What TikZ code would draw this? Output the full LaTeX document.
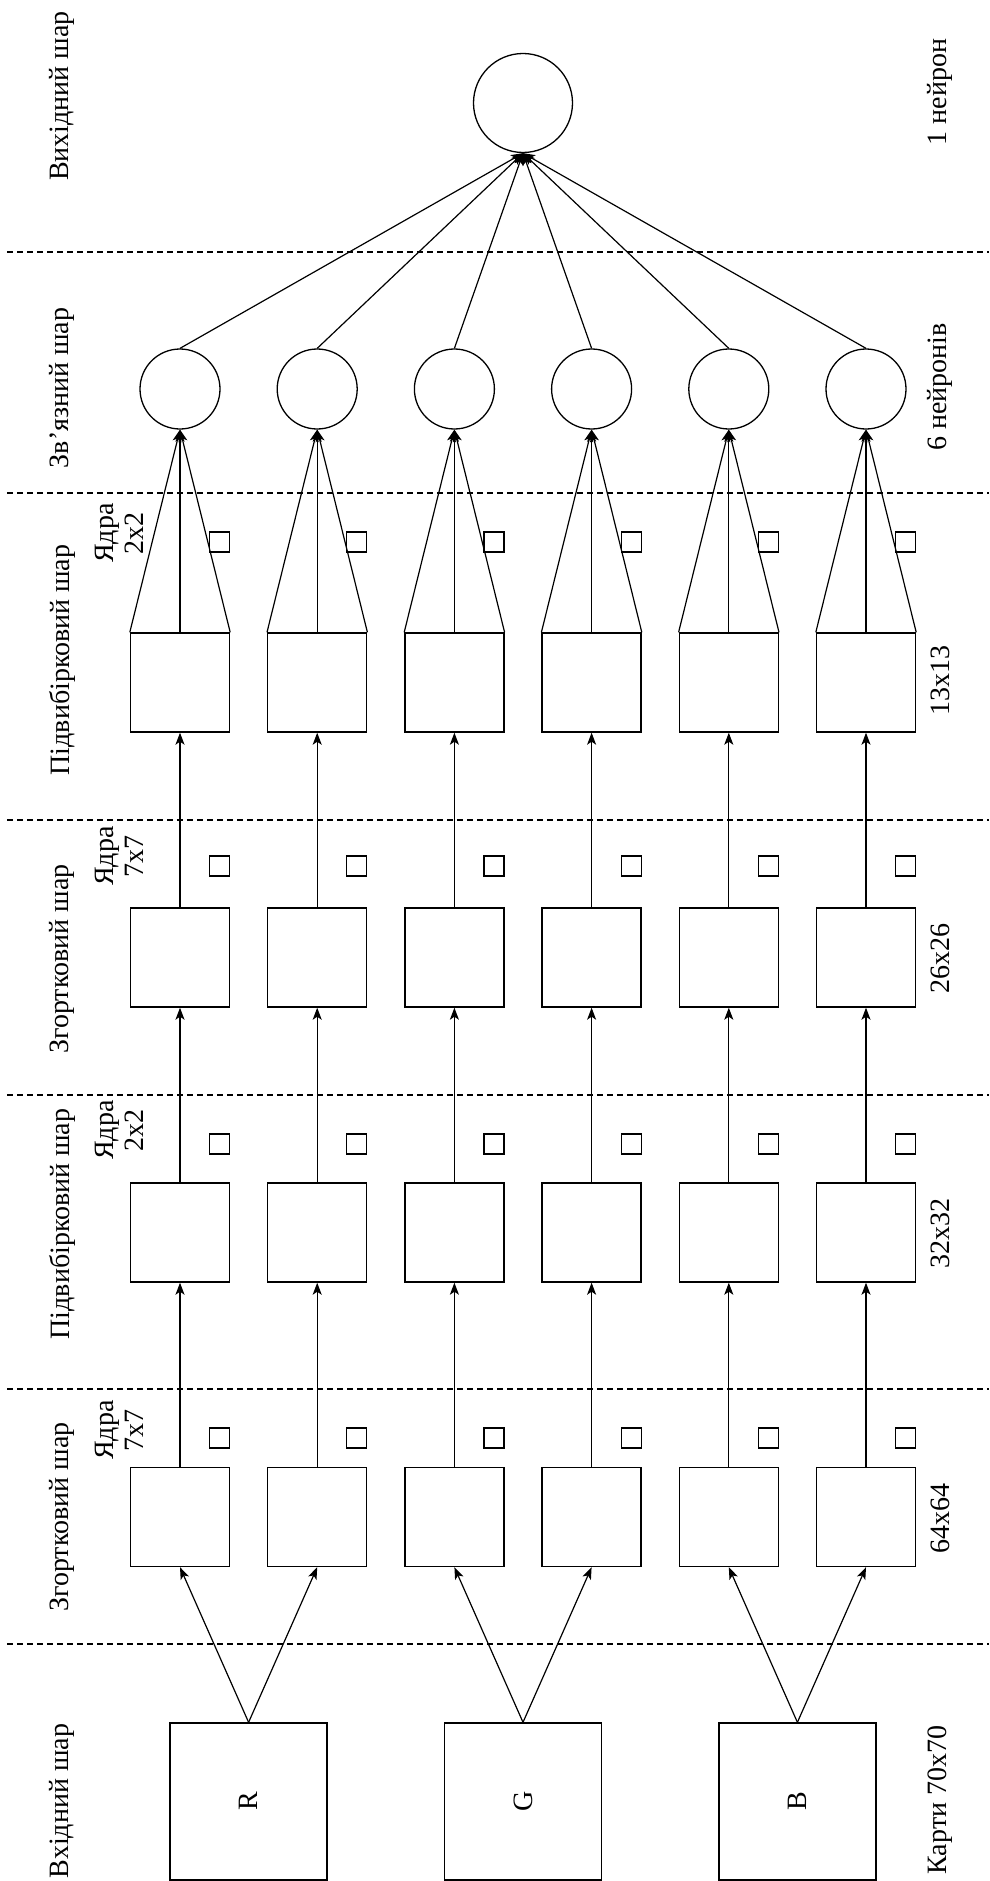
\documentclass[tikz,border=0pt]{standalone}
\usepackage{fontspec}
\setmainfont{Liberation Serif}
\usetikzlibrary{arrows.meta}
\begin{document}
\begin{tikzpicture}[x=1pt,y=-1pt,
  lbl/.style={rotate=90, font=\fontsize{28}{30}\selectfont, inner sep=0pt},
  klbl/.style={rotate=90, font=\fontsize{28}{30}\selectfont, inner sep=0pt, align=center},
  fmap/.style={draw, line width=1.4pt, minimum width=99pt, minimum height=99pt, inner sep=0pt},
  inbox/.style={draw, line width=1.4pt, minimum width=157pt, minimum height=157pt, inner sep=0pt, font=\fontsize{28}{30}\selectfont},
  kern/.style={draw, line width=1.2pt, minimum size=20pt, inner sep=0pt},
  neuron/.style={draw, circle, line width=1.3pt, minimum size=80pt, inner sep=0pt},
  outneuron/.style={draw, circle, line width=1.3pt, minimum size=99pt, inner sep=0pt},
  conn/.style={line width=1.2pt, -{Stealth[length=12pt,width=9pt,inset=3pt]}},
  sep/.style={line width=1.3pt, dash pattern=on 6pt off 4pt}
]
\useasboundingbox (0,0) rectangle (989,1881);

% dashed separators
\foreach \k/\yy in {1/252,2/493,3/820,4/1095,5/1389,6/1644}{
  \coordinate (sl\k) at (7,\yy);
  \coordinate (sr\k) at (989,\yy);
  \draw[sep] (sl\k) -- (sr\k);
}

% left labels
\node[lbl] (L1) at (62,96) {Вихідний шар};
\node[lbl] (L2) at (62,388) {Зв’язний шар};
\node[lbl] (L3) at (62,660) {Підвибірковий шар};
\node[lbl] (L4) at (62,959) {Згортковий шар};
\node[lbl] (L5) at (62,1224) {Підвибірковий шар};
\node[lbl] (L6) at (62,1517) {Згортковий шар};
\node[lbl] (L7) at (62,1801) {Вхідний шар};

% kernel labels
\node[klbl] (K1) at (119,533) {Ядра\\2x2};
\node[klbl] (K2) at (119,856) {Ядра\\7x7};
\node[klbl] (K3) at (119,1130) {Ядра\\2x2};
\node[klbl] (K4) at (119,1430) {Ядра\\7x7};

% right labels
\node[lbl] (R1) at (940,92) {1 нейрон};
\node[lbl] (R2) at (940,387) {6 нейронів};
\node[lbl] (R3) at (940,680) {13x13};
\node[lbl] (R4) at (940,958) {26x26};
\node[lbl] (R5) at (940,1233) {32x32};
\node[lbl] (R6) at (940,1518) {64x64};
\node[lbl] (R7) at (940,1800) {Карти 70x70};

% output neuron
\node[outneuron] (out) at (523,103) {};

% input maps
\node[inbox] (in1) at (248.6,1801.5) {\rotatebox{90}{R}};
\node[inbox] (in2) at (523,1801.5) {\rotatebox{90}{G}};
\node[inbox] (in3) at (797.4,1801.5) {\rotatebox{90}{B}};

% columns
\foreach \i in {1,...,6}{
  \pgfmathsetmacro\cx{180+137.2*(\i-1)}
  \node[fmap] (cA\i) at (\cx,1517) {};
  \node[fmap] (pA\i) at (\cx,1232.5) {};
  \node[fmap] (cB\i) at (\cx,957.5) {};
  \node[fmap] (pB\i) at (\cx,682.5) {};
  \node[neuron] (h\i) at (\cx,389) {};
  \node[kern] (kA\i) at (\cx+39.5,1438) {};
  \node[kern] (kB\i) at (\cx+39.5,1144) {};
  \node[kern] (kC\i) at (\cx+39.5,866) {};
  \node[kern] (kD\i) at (\cx+39.5,542) {};
}

% connectors
\draw[conn] (in1.north) -- (cA1.south);
\draw[conn] (in1.north) -- (cA2.south);
\draw[conn] (in2.north) -- (cA3.south);
\draw[conn] (in2.north) -- (cA4.south);
\draw[conn] (in3.north) -- (cA5.south);
\draw[conn] (in3.north) -- (cA6.south);
\foreach \i in {1,...,6}{
  \draw[conn] (cA\i.north) -- (pA\i.south);
  \draw[conn] (pA\i.north) -- (cB\i.south);
  \draw[conn] (cB\i.north) -- (pB\i.south);
  \draw[conn] (pB\i.north west) -- (h\i.south);
  \draw[conn] (pB\i.north) -- (h\i.south);
  \draw[conn] (pB\i.north east) -- (h\i.south);
  \draw[conn] (h\i.north) -- (out.south);
}
\end{tikzpicture}
\end{document}
